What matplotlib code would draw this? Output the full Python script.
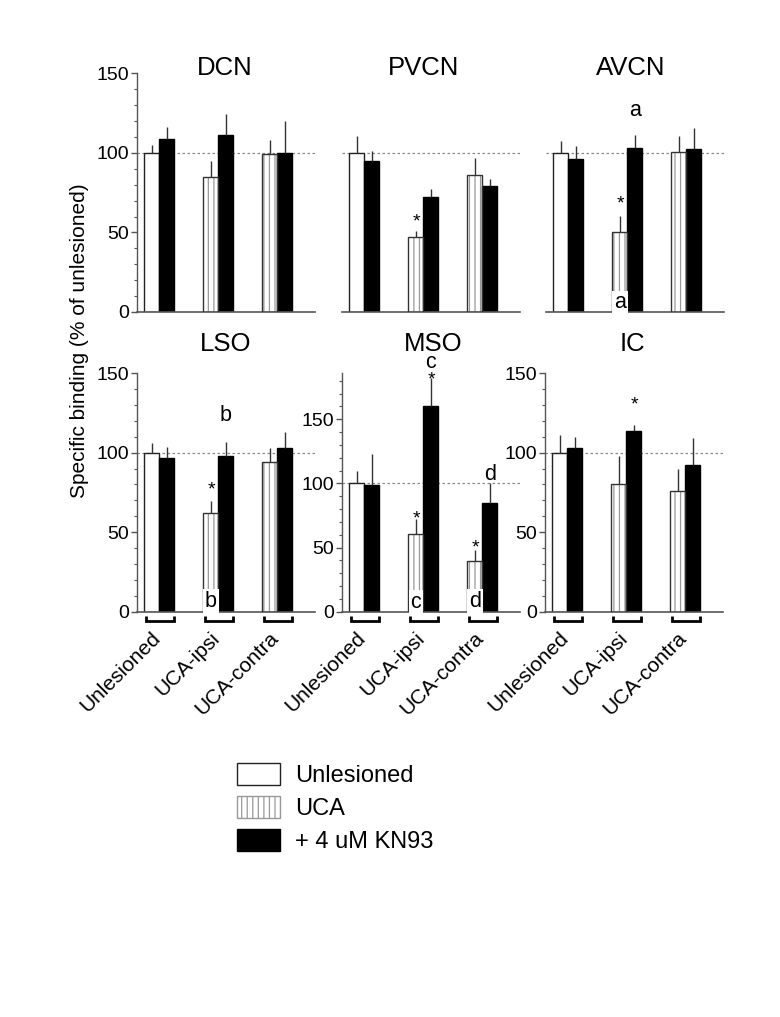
import matplotlib
matplotlib.use('Agg')
import matplotlib.pyplot as plt
import matplotlib.transforms as mtransforms
from matplotlib.patches import Patch
import numpy as np

plt.rcParams['font.family'] = ['Liberation Sans', 'DejaVu Sans']
plt.rcParams['hatch.linewidth'] = 0.9

# ---------------- data ----------------
regions = ['DCN', 'PVCN', 'AVCN', 'LSO', 'MSO', 'IC']
groups = ['Unlesioned', 'UCA-ipsi', 'UCA-contra']
series = ['Unlesioned', 'UCA', '+ 4 uM KN93']

# first bar of each group (Unlesioned / UCA)
ctrl_mean = {
    'DCN':  [100, 84.7, 99.4],
    'PVCN': [100, 47.0, 86.4],
    'AVCN': [100, 50.5, 100.6],
    'LSO':  [100, 62.1, 94.4],
    'MSO':  [100, 60.3, 39.7],
    'IC':   [100, 80.1, 75.9],
}
ctrl_err = {
    'DCN':  [5.0, 10.0, 9.0],
    'PVCN': [10.7, 4.2, 10.2],
    'AVCN': [7.5, 10.1, 10.3],
    'LSO':  [6.3, 7.2, 8.3],
    'MSO':  [9.3, 11.7, 8.3],
    'IC':   [11.3, 18.0, 13.8],
}
# second bar of each group (+ 4 uM KN93)
kn_mean = {
    'DCN':  [108.6, 111.0, 100.2],
    'PVCN': [95.0, 72.5, 79.5],
    'AVCN': [96.0, 103.0, 102.3],
    'LSO':  [96.4, 98.1, 102.7],
    'MSO':  [98.7, 160.0, 84.9],
    'IC':   [103.1, 113.4, 92.2],
}
kn_err = {
    'DCN':  [8.0, 13.5, 20.0],
    'PVCN': [6.4, 4.7, 4.1],
    'AVCN': [8.4, 8.3, 13.2],
    'LSO':  [7.1, 8.8, 10.0],
    'MSO':  [24.1, 21.8, 15.1],
    'IC':   [6.5, 3.7, 17.2],
}
y_max = {'DCN': 150, 'PVCN': 150, 'AVCN': 150, 'LSO': 150, 'MSO': 186, 'IC': 150}

# annotations: (region, group index, bar 0=ctrl 1=KN93, y, text, white box)
annotations = [
    ('PVCN', 1, 0, 56.8, '*', False),
    ('AVCN', 1, 0, 67.9, '*', False),
    ('AVCN', 1, 1, 126.4, 'a', False),
    ('AVCN', 1, 0, 5.7, 'a', True),
    ('LSO', 1, 0, 76.7, '*', False),
    ('LSO', 1, 1, 123.4, 'b', False),
    ('LSO', 1, 0, 6.4, 'b', True),
    ('MSO', 1, 0, 72.3, '*', False),
    ('MSO', 1, 1, 180.9, '*', False),
    ('MSO', 1, 1, 194.0, 'c', False),
    ('MSO', 1, 0, 7.2, 'c', True),
    ('MSO', 2, 0, 49.3, '*', False),
    ('MSO', 2, 1, 106.9, 'd', False),
    ('MSO', 2, 0, 7.9, 'd', True),
    ('IC', 1, 1, 130.1, '*', False),
]

# ---------------- layout ----------------
FW, FH = 780, 1017
fig = plt.figure(figsize=(FW / 100, FH / 100), dpi=100)
lefts = [137, 342, 546, 137, 342, 545]
bottoms = [312, 312, 312, 611.7, 611.7, 611.7]
title_x = [0.494, 0.46, 0.475, 0.497, 0.514, 0.49]
AXW, AXH = 178, 238.6
W = 0.254
SPINE = '#555555'

for i, r in enumerate(regions):
    ax = fig.add_axes([lefts[i] / FW, 1 - bottoms[i] / FH, AXW / FW, AXH / FH])
    top_row = i < 3
    x = np.arange(len(groups))
    xc = x - W / 2
    xk = x + W / 2
    ax.set_xlim(-0.381, 2.636)
    ax.set_ylim(0, y_max[r])
    ax.axhline(100, color='#888888', lw=0.9, ls=(0, (2, 2)), zorder=0)

    cm = ctrl_mean[r]
    for g in range(len(groups)):
        if g == 0:
            ax.bar(xc[g], cm[g], W, color='white', edgecolor='#222222', lw=1, zorder=2)
        else:
            ax.bar(xc[g], cm[g], W, color='white', edgecolor='#999999', hatch='|||', lw=0, zorder=2)
            ax.bar(xc[g], cm[g], W, fill=False, edgecolor='#333333', lw=1, zorder=3)
    ax.bar(xk, kn_mean[r], W, color='black', edgecolor='black', lw=1, zorder=2)
    ax.errorbar(xc, cm, yerr=[np.zeros(3), ctrl_err[r]], fmt='none', ecolor='#333333',
                elinewidth=1, capsize=0, zorder=4)
    ax.errorbar(xk, kn_mean[r], yerr=[np.zeros(3), kn_err[r]], fmt='none', ecolor='#333333',
                elinewidth=1, capsize=0, zorder=4)

    for (rr, g, b, yv, txt, boxed) in annotations:
        if rr != r:
            continue
        xp = xc[g] if b == 0 else xk[g]
        kw = dict(ha='center', va='center', zorder=6, clip_on=False)
        if txt == '*':
            kw['fontsize'] = 14
        else:
            kw['fontsize'] = 15.5
        if boxed:
            kw['bbox'] = dict(facecolor='white', edgecolor='none', pad=1.2)
        ax.text(xp, yv, txt, **kw)

    # spines
    ax.spines['top'].set_visible(False)
    ax.spines['right'].set_visible(False)
    ax.spines['bottom'].set_color(SPINE)
    ax.spines['bottom'].set_linewidth(1.2)
    ax.spines['left'].set_color(SPINE)
    ax.spines['left'].set_linewidth(1.0)

    show_y = (not top_row) or i == 0
    if show_y:
        ax.set_yticks([0, 50, 100, 150])
        ax.set_yticks(np.arange(0, y_max[r] + 0.1, 10), minor=True)
        ax.tick_params(axis='y', which='major', length=4, width=1, color=SPINE,
                       labelsize=14, pad=2)
        ax.tick_params(axis='y', which='minor', length=2.5, width=0.8, color=SPINE)
    else:
        ax.spines['left'].set_visible(False)
        ax.set_yticks([])

    if top_row:
        ax.set_xticks([])
        tb = (312 - 75) / AXH
    else:
        ax.set_xticks(x + 0.08)
        ax.set_xticklabels(groups, rotation=45, ha='right', fontsize=15)
        ax.tick_params(axis='x', length=0, pad=12)
        trans = mtransforms.blended_transform_factory(ax.transData, ax.transAxes)
        y0, y1 = -4 / AXH, -9.5 / AXH
        for g in x:
            ax.plot([g - W + 0.034, g - W + 0.034, g + W, g + W], [y0, y1, y1, y0],
                    transform=trans, color='black', lw=2, clip_on=False,
                    solid_joinstyle='miter', solid_capstyle='butt')
        tb = (611.7 - 351) / AXH
    ax.text(title_x[i], tb, r, transform=ax.transAxes, ha='center', va='baseline',
            fontsize=18.5)

fig.text(80 / FW, 1 - 341 / FH, 'Specific binding (% of unlesioned)', rotation=90,
         ha='center', va='center', fontsize=15)

handles = [Patch(facecolor='white', edgecolor='#222222', lw=1),
           Patch(facecolor='white', edgecolor='#999999', hatch='|||', lw=1),
           Patch(facecolor='black', edgecolor='black', lw=1)]
fig.legend(handles, series, loc='upper left', bbox_to_anchor=(237 / FW, 1 - 763 / FH),
           bbox_transform=fig.transFigure, frameon=False, fontsize=17,
           handlelength=1.82, handleheight=1.06, handletextpad=0.64,
           labelspacing=0.38, borderpad=0, borderaxespad=0)

fig.savefig('out.png', dpi=100)
